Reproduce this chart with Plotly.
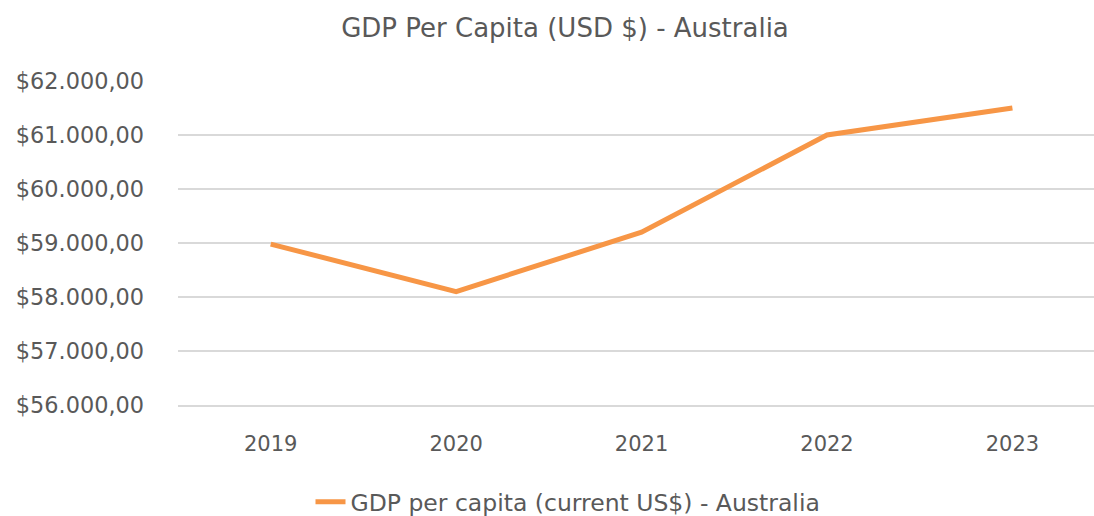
import plotly.graph_objects as go

years = ["2019", "2020", "2021", "2022", "2023"]
gdp_per_capita = [58980, 58100, 59200, 61000, 61500]
y_ticks = [56000, 57000, 58000, 59000, 60000, 61000, 62000]
y_tick_labels = ["$56.000,00", "$57.000,00", "$58.000,00", "$59.000,00",
                 "$60.000,00", "$61.000,00", "$62.000,00"]

FONT = "DejaVu Sans"
GRAY = "#595959"
GRID = "#d9d9d9"

W, H = 1094, 516

fig = go.Figure()
fig.add_trace(go.Scatter(
    x=years, y=gdp_per_capita, mode="lines",
    name="GDP per capita (current US$) - Australia",
    line=dict(color="#F79646", width=5),
))

fig.update_layout(
    width=W, height=H,
    margin=dict(l=178, r=0, t=81, b=111),
    paper_bgcolor="white", plot_bgcolor="white",
    font=dict(family=FONT, color=GRAY, size=21),
    title=dict(text="GDP Per Capita (USD $) - Australia",
               x=565/W, xref="container", xanchor="center",
               y=1-28/H, yref="container", yanchor="middle",
               font=dict(family=FONT, size=26, color=GRAY)),
    showlegend=True,
    legend=dict(orientation="h", x=568/W, xref="container", xanchor="center",
                y=1-502/H, yref="container", yanchor="middle",
                font=dict(family=FONT, size=23.5, color=GRAY)),
    xaxis=dict(type="category", range=[-0.5, 4.44], showgrid=False,
               showline=True, linecolor=GRID, linewidth=1.5,
               ticks="", ticklabelstandoff=19,
               tickfont=dict(family=FONT, size=21, color=GRAY)),
    yaxis=dict(range=[56000, 62000], tickvals=y_ticks, ticktext=y_tick_labels,
               showgrid=True, gridcolor=GRID, gridwidth=1.5, zeroline=False,
               ticks="", ticklabelstandoff=33,
               tickfont=dict(family=FONT, size=22.4, color=GRAY)),
)

fig.write_html(
    "out.html",
    config={"displayModeBar": False},
    post_script="document.body.style.margin='0';document.body.style.overflow='hidden';",
)
